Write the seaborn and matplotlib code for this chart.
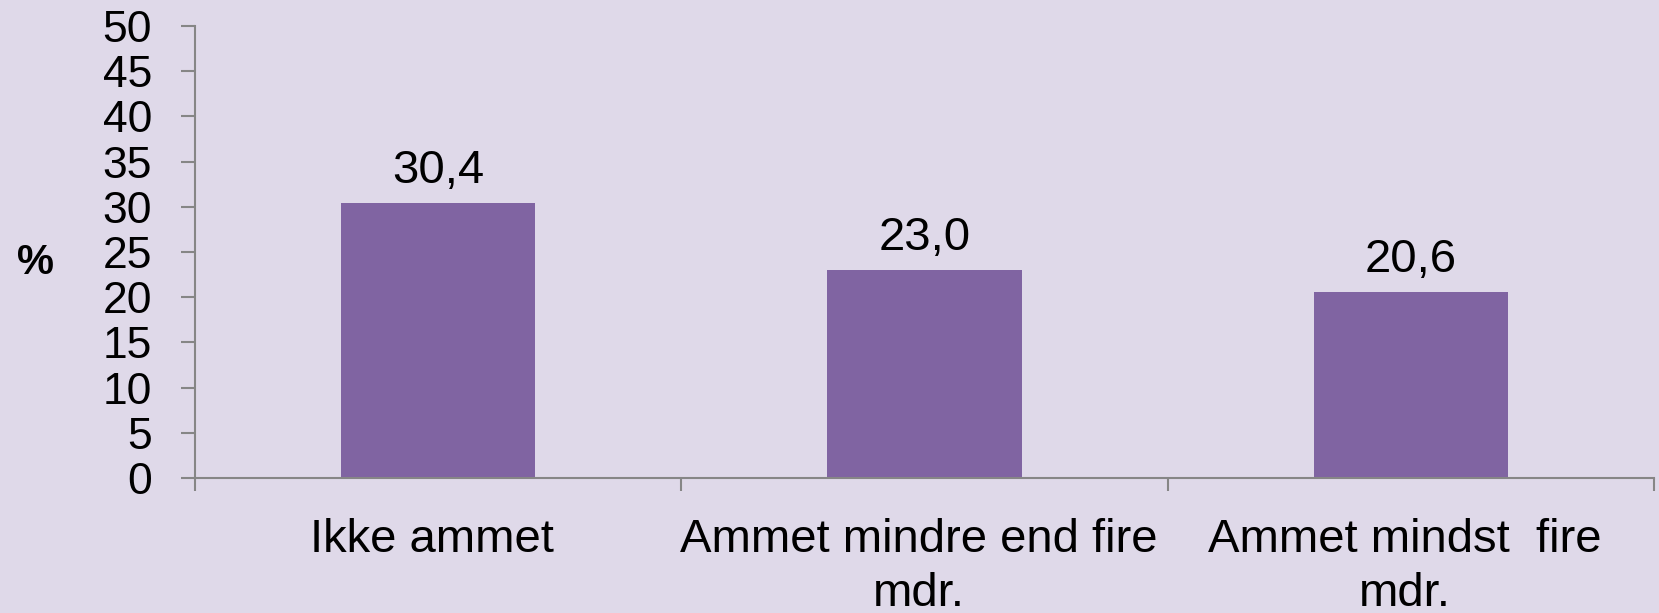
import matplotlib
matplotlib.use("Agg")
import matplotlib.pyplot as plt
import matplotlib.transforms as mtransforms
import seaborn as sns
import pandas as pd

categories = ["Ikke ammet", "Ammet mindre end fire\nmdr.", "Ammet mindst  fire\nmdr."]
values = [30.4, 23.0, 20.6]
yticks = [0, 5, 10, 15, 20, 25, 30, 35, 40, 45, 50]

bg = "#DFD9E9"
bar_color = "#8064A2"
axis_gray = "#868686"

sns.set_style("white")
plt.rcParams["font.family"] = ["Liberation Sans", "DejaVu Sans"]
plt.rcParams["text.color"] = "black"

df = pd.DataFrame({"kategori": categories, "pct": values})

fig = plt.figure(figsize=(16.59, 6.13), dpi=100, facecolor=bg)
ax = fig.add_axes([0.1175, 0.2202, 0.8795, 0.7374])
ax.set_facecolor(bg)

sns.barplot(data=df, x="kategori", y="pct", color=bar_color, saturation=1,
            width=0.4, linewidth=0, ax=ax)

for i, v in enumerate(values):
    ax.annotate(f"{v:.1f}".replace(".", ","), (i, v), xytext=(0, 7),
                textcoords="offset points", ha="center", va="bottom",
                fontsize=34, color="black")

ax.set_xlim(-0.5, 2.5)
ax.set_ylim(0, 50)
ax.set_yticks(yticks)
ax.set_yticklabels([str(t) for t in yticks], fontsize=32)
ax.set_xticks([-0.5, 0.5, 1.5, 2.5], minor=True)
ax.tick_params(axis="x", which="major", bottom=True, length=0, pad=29,
               labelsize=34, labelcolor="black")
ax.tick_params(axis="x", which="minor", bottom=True, length=9.5, width=1.5,
               color=axis_gray, direction="out")
ax.tick_params(axis="y", left=True, length=10, width=1.5, color=axis_gray,
               direction="out", pad=21, labelcolor="black")

# labels sit a little left of the bar centres in the original
shift = mtransforms.ScaledTranslation(-6 / 100, 0, fig.dpi_scale_trans)
for lbl in ax.get_xticklabels():
    lbl.set_linespacing(1.3)
    lbl.set_transform(lbl.get_transform() + shift)

ax.set_xlabel("")
ax.set_ylabel("")
for s in ["top", "right"]:
    ax.spines[s].set_visible(False)
for s in ["left", "bottom"]:
    ax.spines[s].set_color(axis_gray)
    ax.spines[s].set_linewidth(1.5)

fig.text(35 / 1659, 1 - 263 / 613, "%", fontsize=30, fontweight="bold",
         ha="center", va="center")

fig.savefig("out.png", dpi=100, facecolor=bg)
